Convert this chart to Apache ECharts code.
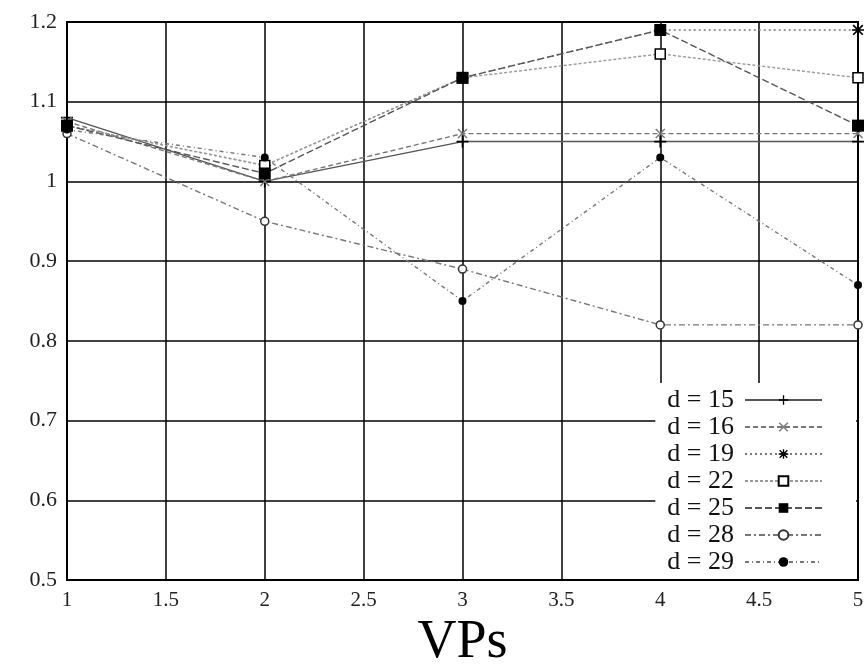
<!DOCTYPE html>
<html>
<head>
<meta charset="utf-8">
<script src="https://cdn.jsdelivr.net/npm/echarts@6/dist/echarts.min.js"></script>
<style>
  html, body { margin: 0; padding: 0; background: #fff; }
  #chart { width: 867px; height: 669px; }
</style>
</head>
<body>
<div id="chart"></div>
<script>
var vps = [1, 2, 3, 4, 5];
var names = ['d = 15', 'd = 16', 'd = 19', 'd = 22', 'd = 25', 'd = 28', 'd = 29'];
var d15 = [1.08, 1.00, 1.05, 1.05, 1.05];
var d16 = [1.075, 1.00, 1.06, 1.06, 1.06];
var d19 = [1.07, 1.02, 1.13, 1.19, 1.19];
var d22 = [1.07, 1.02, 1.13, 1.16, 1.13];
var d25 = [1.07, 1.01, 1.13, 1.19, 1.07];
var d28 = [1.06, 0.95, 0.89, 0.82, 0.82];
var d29 = [1.065, 1.03, 0.85, 1.03, 0.87];
var allValues = [d15, d16, d19, d22, d25, d28, d29];

// marker shapes
var plusPath = 'path://M4.3,0H5.7V4.3H10V5.7H5.7V10H4.3V5.7H0V4.3H4.3Z';
var crossPath = 'path://M1,0L5,4L9,0L10,1L6,5L10,9L9,10L5,6L1,10L0,9L4,5L0,1Z';
var starPath = 'path://M4.3,0H5.7V4.3H10V5.7H5.7V10H4.3V5.7H0V4.3H4.3Z M1.5,0.5L5,4L8.5,0.5L9.5,1.5L6,5L9.5,8.5L8.5,9.5L5,6L1.5,9.5L0.5,8.5L4,5L0.5,1.5Z';

var styles = [
  { symbol: plusPath, size: 12, fill: '#000', dash: 'solid', color: '#555' },
  { symbol: crossPath, size: 10, fill: '#777', dash: [5, 3], color: '#777' },
  { symbol: starPath, size: 12, fill: '#000', dash: [2, 3], color: '#777' },
  { symbol: 'rect', size: 10, fill: '#fff', dash: [3, 2], color: '#999', border: '#000' },
  { symbol: 'rect', size: 12, fill: '#000', dash: [7, 3], color: '#555' },
  { symbol: 'circle', size: 8, fill: '#fff', dash: [6, 3, 2, 3], color: '#777', border: '#333' },
  { symbol: 'circle', size: 8, fill: '#000', dash: [4, 3, 1, 3], color: '#777' }
];

var series = names.map(function (n, i) {
  var s = styles[i];
  return {
    name: n,
    type: 'line',
    data: vps.map(function (x, j) { return [x, allValues[i][j]]; }),
    symbol: s.symbol,
    symbolSize: s.size,
    showSymbol: true,
    lineStyle: { color: s.color, width: 1.4, type: s.dash },
    itemStyle: { color: s.fill, borderColor: s.border || s.fill, borderWidth: s.border ? 1.5 : 0 },
    emphasis: { disabled: true },
    z: 3
  };
});

var chart = echarts.init(document.getElementById('chart'));
chart.setOption({
  animation: false,
  backgroundColor: '#fff',
  grid: {
    left: 67, right: 9, top: 22, bottom: 89,
    containLabel: false, outerBoundsMode: 'none',
    show: true, borderColor: '#000', borderWidth: 2
  },
  legend: {
    data: names,
    orient: 'vertical',
    right: 11,
    bottom: 90,
    align: 'right',
    itemWidth: 77,
    itemHeight: 12,
    itemGap: 1,
    padding: [4, 33, 4, 12],
    backgroundColor: '#fff',
    textStyle: { fontFamily: 'Liberation Serif', fontSize: 26, lineHeight: 26, color: '#111', padding: [0, 6, 0, 0] },
    z: 10
  },
  xAxis: {
    type: 'value',
    min: 1,
    max: 5,
    interval: 0.5,
    name: 'VPs',
    nameLocation: 'middle',
    nameGap: 28,
    nameTextStyle: { fontFamily: 'Liberation Serif', fontSize: 54, color: '#000' },
    axisLine: { lineStyle: { color: '#000', width: 2 } },
    axisTick: { show: false },
    axisLabel: { fontFamily: 'Liberation Serif', fontSize: 21, color: '#222', margin: 10 },
    splitLine: { show: true, lineStyle: { color: '#000', width: 1.5 } }
  },
  yAxis: {
    type: 'value',
    min: 0.5,
    max: 1.2,
    interval: 0.1,
    axisLine: { lineStyle: { color: '#000', width: 2 } },
    axisTick: { show: false },
    axisLabel: {
      fontFamily: 'Liberation Serif', fontSize: 22, color: '#222', margin: 10,
      formatter: function (v) { return String(Math.round(v * 10) / 10); }
    },
    splitLine: { show: true, lineStyle: { color: '#000', width: 1.5 } }
  },
  series: series
});
</script>
</body>
</html>
